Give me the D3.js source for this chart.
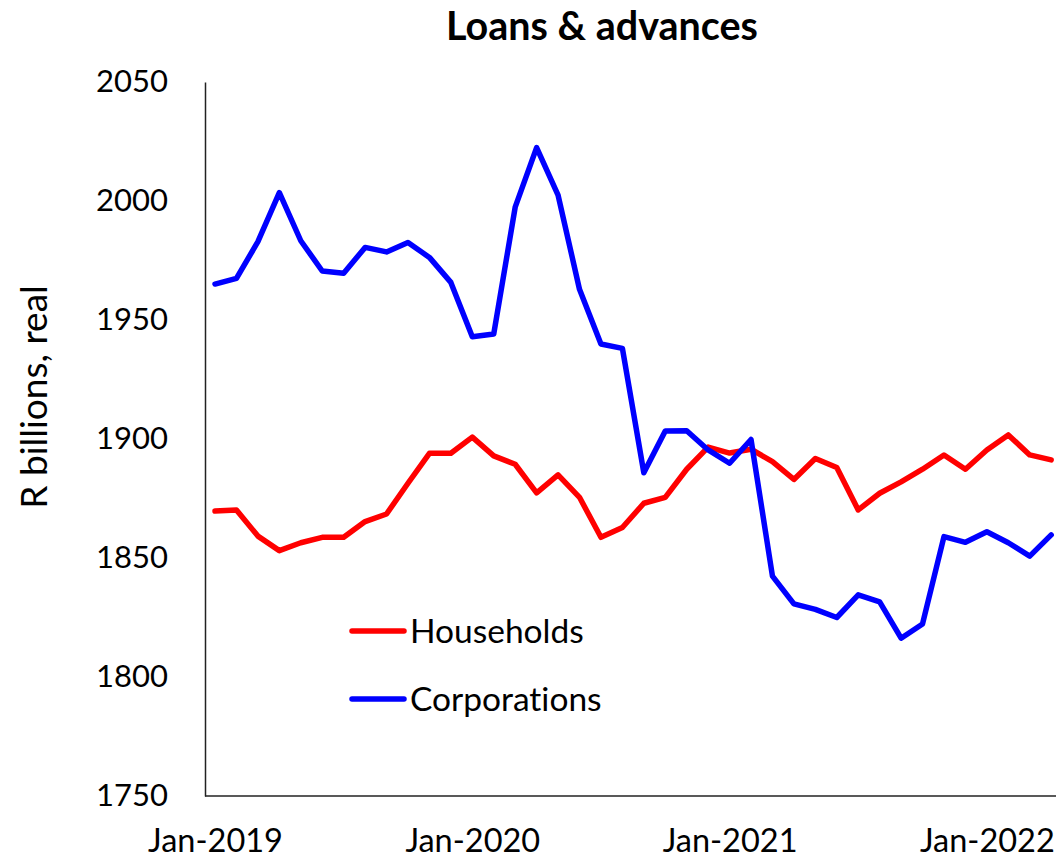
<!DOCTYPE html>
<html>
<head>
<meta charset="utf-8">
<script src="https://cdn.jsdelivr.net/npm/d3@7"></script>
<style>
  html, body { margin: 0; padding: 0; background: #fff; }
  svg { display: block; font-family: Lato, "Open Sans", sans-serif; font-variant-ligatures: none; font-feature-settings: "liga" 0; }
</style>
</head>
<body>
<svg id="chart" width="1056" height="862"></svg>
<script>
const categories = [
  "Jan-2019","Feb-2019","Mar-2019","Apr-2019","May-2019","Jun-2019","Jul-2019","Aug-2019","Sep-2019","Oct-2019","Nov-2019","Dec-2019",
  "Jan-2020","Feb-2020","Mar-2020","Apr-2020","May-2020","Jun-2020","Jul-2020","Aug-2020","Sep-2020","Oct-2020","Nov-2020","Dec-2020",
  "Jan-2021","Feb-2021","Mar-2021","Apr-2021","May-2021","Jun-2021","Jul-2021","Aug-2021","Sep-2021","Oct-2021","Nov-2021","Dec-2021",
  "Jan-2022","Feb-2022","Mar-2022","Apr-2022"
];
const households = [
  1869.7, 1870.2, 1859.2, 1853.1, 1856.4, 1858.7, 1858.7, 1865.3, 1868.5, 1881.4, 1894.0, 1894.0,
  1900.8, 1892.9, 1889.4, 1877.4, 1884.9, 1875.5, 1858.7, 1862.8, 1873.0, 1875.5, 1887.3, 1896.6,
  1894.1, 1895.7, 1890.5, 1883.0, 1891.8, 1888.0, 1870.2, 1877.2, 1882.0, 1887.3, 1893.3, 1887.3,
  1895.4, 1901.7, 1893.3, 1891.2
];
const corporations = [
  1965.1, 1967.5, 1982.9, 2003.5, 1983.3, 1970.6, 1969.6, 1980.5, 1978.6, 1982.6, 1976.3, 1965.8,
  1943.0, 1944.1, 1997.4, 2022.4, 2002.5, 1962.9, 1939.9, 1938.1, 1885.8, 1903.4, 1903.5, 1895.4,
  1889.8, 1899.8, 1842.4, 1830.7, 1828.4, 1825.0, 1834.5, 1831.6, 1816.3, 1822.3, 1859.0, 1856.6,
  1861.0, 1856.4, 1850.8, 1859.7
];
const xTickLabels = ["Jan-2019", "Jan-2020", "Jan-2021", "Jan-2022"];
const yTicks = [1750, 1800, 1850, 1900, 1950, 2000, 2050];
const seriesNames = ["Households", "Corporations"];
const seriesColors = ["#ff0000", "#0000ff"];

const svg = d3.select("#chart");
const plot = { left: 205, top: 82, bottom: 796, step: 21.44 };

const x = d3.scalePoint()
  .domain(categories)
  .range([plot.left - 0.7, plot.left - 0.7 + plot.step * categories.length])
  .padding(0.5);
const y = d3.scaleLinear().domain([1750, 2050]).range([plot.bottom, plot.top]);

// Title
svg.append("text")
  .attr("x", 602).attr("y", 40)
  .attr("text-anchor", "middle")
  .attr("font-weight", "bold")
  .attr("font-size", 39.5)
  .attr("fill", "#000")
  .text("Loans & advances");

// Y axis title
svg.append("text")
  .attr("transform", "translate(47,397) rotate(-90)")
  .attr("text-anchor", "middle")
  .attr("font-size", 37)
  .attr("fill", "#000")
  .text("R billions, real");

// Y axis
const yAxis = svg.append("g")
  .attr("transform", `translate(${plot.left},0)`)
  .call(d3.axisLeft(y).tickValues(yTicks).tickSize(0).tickPadding(37).tickFormat(d3.format("d")));
yAxis.select(".domain").attr("stroke", "#222").attr("stroke-width", 1.5);
yAxis.selectAll("text").attr("font-size", 31).attr("font-family", "Lato, sans-serif").attr("fill", "#000");

// X axis
const xAxis = svg.append("g")
  .attr("transform", `translate(0,${plot.bottom})`)
  .call(d3.axisBottom(x).tickValues(xTickLabels).tickSize(0).tickPadding(33));
xAxis.select(".domain").attr("stroke", "#222").attr("stroke-width", 1.5)
  .attr("d", `M${plot.left},0H1056`);
xAxis.selectAll("text").attr("font-size", 32.5).attr("font-family", "Lato, sans-serif").attr("fill", "#000");

// Lines
const line = d3.line()
  .x((d, i) => x(categories[i]))
  .y(d => y(d));

[households, corporations].forEach((vals, k) => {
  svg.append("path")
    .datum(vals)
    .attr("fill", "none")
    .attr("stroke", seriesColors[k])
    .attr("stroke-width", 5.5)
    .attr("stroke-linejoin", "round")
    .attr("stroke-linecap", "round")
    .attr("d", line);
});

// Legend
const legendY = [631, 699];
seriesNames.forEach((name, k) => {
  svg.append("line")
    .attr("x1", 352).attr("x2", 404)
    .attr("y1", legendY[k]).attr("y2", legendY[k])
    .attr("stroke", seriesColors[k])
    .attr("stroke-width", 5.5)
    .attr("stroke-linecap", "round");
  svg.append("text")
    .attr("x", 410).attr("y", legendY[k] + 12)
    .attr("font-size", 33.5)
    .attr("fill", "#000")
    .text(name);
});
</script>
</body>
</html>
